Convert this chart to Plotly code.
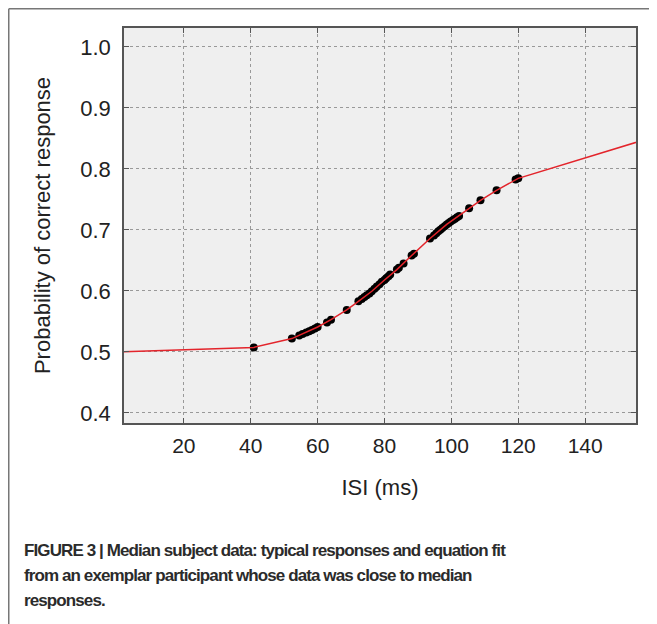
import plotly.graph_objects as go

# Observed responses (ISI in ms, probability correct)
isi_ms = [40.9, 52.3, 54.5, 55.5, 56.6, 57.5, 58.3, 59.2, 60.0, 62.8, 64.0, 68.7,
          72.2, 73.2, 74.0, 74.7, 75.5, 76.2, 77.0, 77.7, 78.5, 79.2, 80.0, 80.5,
          81.2, 81.7, 83.7, 84.3, 85.7, 88.1, 88.8, 93.6, 94.8, 95.5, 96.1, 96.7,
          97.3, 98.0, 98.6, 99.2, 99.8, 100.5, 101.1, 101.7, 102.3, 105.3, 108.7,
          113.5, 119.2, 120.0]
p_correct = [0.5075, 0.522, 0.527, 0.5295, 0.532, 0.534, 0.536, 0.5385, 0.541, 0.5485,
             0.553, 0.569, 0.583, 0.587, 0.590, 0.593, 0.596, 0.5995, 0.6035, 0.6075,
             0.611, 0.615, 0.618, 0.621, 0.624, 0.627, 0.635, 0.638, 0.645, 0.658,
             0.661, 0.686, 0.691, 0.6945, 0.698, 0.7005, 0.703, 0.706, 0.709, 0.7115,
             0.714, 0.7165, 0.7185, 0.721, 0.723, 0.7355, 0.7485, 0.765, 0.7825, 0.7846]

# Equation fit curve
fit_x = [0, 40.9, 52.3, 56.6, 60.0, 64.0, 68.7, 72.2, 76.2, 80.0, 83.7, 88.1, 93.6,
         98.6, 102.3, 105.3, 108.7, 113.5, 120.0, 160.0]
fit_y = [0.500, 0.5075, 0.522, 0.532, 0.541, 0.553, 0.569, 0.583, 0.5995, 0.618, 0.635,
         0.658, 0.686, 0.709, 0.723, 0.7355, 0.7485, 0.765, 0.7846, 0.8516]

x_ticks = [20, 40, 60, 80, 100, 120, 140]
y_ticks = [0.4, 0.5, 0.6, 0.7, 0.8, 0.9, 1.0]
y_tick_text = ["0.4", "0.5", "0.6", "0.7", "0.8", "0.9", "1.0"]

caption_lines = ["FIGURE 3 | Median subject data: typical responses and equation fit",
                 "from an exemplar participant whose data was close to median",
                 "responses."]

# page has an 8px body margin, so the figure is drawn 8px smaller and offset
W, H = 649, 616
ML, MR, MT, MB = 116, 21, 20, 201
PW, PH = W - ML - MR, H - MT - MB

def px_x(p):
    return (p - ML) / PW

def px_y(p):
    return (H - MB - p) / PH

fig = go.Figure()
fig.add_trace(go.Scatter(x=isi_ms, y=p_correct, mode="markers",
                         marker=dict(color="black", size=8), showlegend=False))
fig.add_trace(go.Scatter(x=fit_x, y=fit_y, mode="lines",
                         line=dict(color="#e3242b", width=1.5), showlegend=False))

font_main = "Liberation Sans, Arial, sans-serif"

fig.update_layout(
    width=W, height=H,
    margin=dict(l=ML, r=MR, t=MT, b=MB, autoexpand=False),
    paper_bgcolor="white", plot_bgcolor="#efefef",
    font=dict(family=font_main, size=22, color="#222"),
    xaxis=dict(range=[2.1, 155.2], tickvals=x_ticks, ticks="inside", ticklen=5,
               tickcolor="#555", showline=True, linecolor="#555", linewidth=1.5,
               mirror="ticks", showgrid=True, gridcolor="#999", griddash="dot",
               gridwidth=1, zeroline=False, ticklabelstandoff=3,
               tickfont=dict(size=21),
               title=dict(text="ISI (ms)", standoff=24, font=dict(size=22))),
    yaxis=dict(range=[0.3836, 1.031], tickvals=y_ticks, ticktext=y_tick_text,
               ticks="inside", ticklen=5, tickcolor="#555", showline=True,
               linecolor="#555", linewidth=1.5, mirror="ticks", showgrid=True,
               gridcolor="#999", griddash="dot", gridwidth=1, zeroline=False,
               ticklabelstandoff=7, tickfont=dict(size=22),
               title=dict(text="Probability of correct response", standoff=24,
                          font=dict(size=22))),
)

# outer frame (top and left edges)
fig.add_shape(type="line", xref="paper", yref="paper",
              x0=px_x(0.75), x1=px_x(660), y0=px_y(0.75), y1=px_y(0.75),
              line=dict(color="#777", width=1.5))
fig.add_shape(type="line", xref="paper", yref="paper",
              x0=px_x(0.75), x1=px_x(0.75), y0=px_y(0.75), y1=px_y(630),
              line=dict(color="#777", width=1.5))

line_y = [542, 567, 592]
for txt, yy in zip(caption_lines, line_y):
    fig.add_annotation(text='<span style="letter-spacing:-0.9px">' + txt + '</span>',
                       xref="paper", yref="paper",
                       x=px_x(14), y=px_y(yy), xanchor="left", yanchor="middle",
                       align="left", showarrow=False,
                       font=dict(family=font_main, size=17, color="#2b2b2b",
                                 weight="bold"))

fig.write_html("out.html")
